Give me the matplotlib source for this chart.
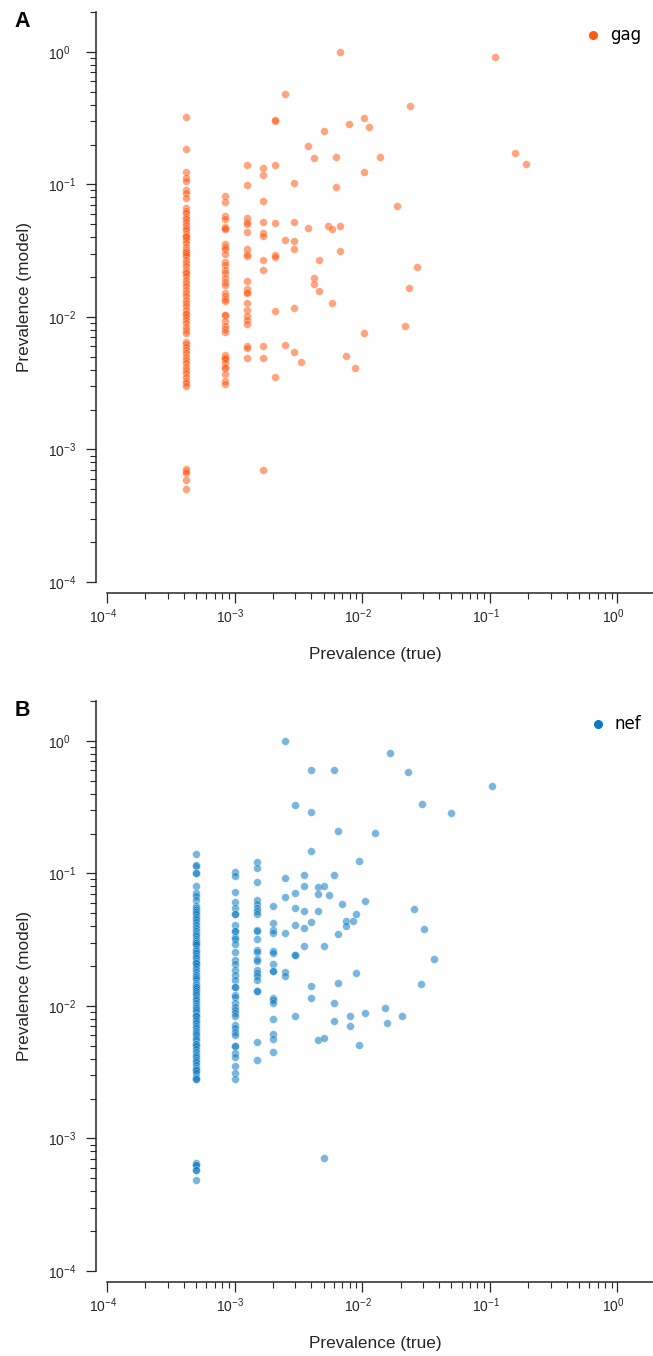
import numpy as np
import matplotlib
matplotlib.use("Agg")
import matplotlib.pyplot as plt
from matplotlib.ticker import LogLocator, FuncFormatter, NullFormatter
from matplotlib.lines import Line2D
from matplotlib.transforms import ScaledTranslation

plt.rcParams['font.family'] = 'Liberation Sans'
plt.rcParams['mathtext.fontset'] = 'custom'
plt.rcParams['mathtext.rm'] = 'Liberation Sans'
plt.rcParams['mathtext.it'] = 'Liberation Sans:italic'
plt.rcParams['mathtext.bf'] = 'Liberation Sans:bold'

INK = '#262626'

# ---- gag: true prevalence = count / GAG_N ----
GAG_N = 2400
gag_col1 = [0.32, 0.185, 0.124, 0.112, 0.106, 0.091, 0.086, 0.079,
            0.0665, 0.063, 0.061, 0.057, 0.055, 0.052, 0.049, 0.047, 0.045,
            0.042, 0.041, 0.041, 0.040, 0.038, 0.036, 0.034, 0.032, 0.031, 0.031,
            0.030, 0.029, 0.027, 0.0256, 0.0243, 0.0226, 0.022, 0.0215, 0.0204,
            0.019, 0.018, 0.017, 0.016, 0.0152, 0.0144, 0.0134, 0.0128, 0.0121,
            0.0113, 0.0107, 0.0105, 0.010, 0.0095, 0.009, 0.0084, 0.008, 0.0076,
            0.0065, 0.0062, 0.0059, 0.0056, 0.0053, 0.005, 0.0047, 0.0045,
            0.0042, 0.004, 0.0038, 0.0035, 0.0033, 0.0032, 0.003,
            0.00071, 0.00069, 0.000665, 0.00059, 0.0005]
gag_col2 = [0.082, 0.074, 0.0575, 0.055, 0.048, 0.0465, 0.046, 0.0356, 0.034,
            0.0326, 0.030, 0.0259, 0.0248, 0.0226, 0.0214, 0.0198, 0.0182,
            0.0173, 0.0152, 0.0143, 0.0137, 0.0131, 0.0104, 0.0104, 0.0093,
            0.0085, 0.0081, 0.0077, 0.0052, 0.005, 0.0049, 0.0048, 0.0045,
            0.0042, 0.0041, 0.0037, 0.0033, 0.0031]
gag_col3 = [0.140, 0.099, 0.056, 0.052, 0.050, 0.044, 0.0326, 0.030, 0.029,
            0.0187, 0.0162, 0.0155, 0.0152, 0.0127, 0.0113, 0.0101, 0.0095,
            0.0088, 0.006, 0.0058, 0.0049]
gag_col4 = [0.132, 0.117, 0.0747, 0.052, 0.0428, 0.0409, 0.0268, 0.0228,
            0.006, 0.0049, 0.0007]
gag_rest_k = [5, 5, 5, 5, 5, 5, 5, 5, 6, 6, 6, 7, 7, 7, 7, 7, 7, 8, 9, 9,
              10, 10, 10, 11, 11, 12, 13, 14, 14, 15, 15, 16, 16, 16, 18, 19,
              21, 25, 25, 25, 27, 33, 45, 52, 56, 57, 65, 263, 376, 464]
gag_rest_y = [0.30, 0.305, 0.140, 0.0516, 0.0294, 0.0283, 0.0111, 0.0035,
              0.48, 0.038, 0.0061, 0.103, 0.0519, 0.0375, 0.0326, 0.0116, 0.0054,
              0.0046, 0.194, 0.0466, 0.157, 0.0196, 0.0177, 0.0268, 0.0158,
              0.252, 0.0488, 0.0463, 0.0127, 0.161, 0.095, 1.0, 0.0488, 0.0315,
              0.0051, 0.288, 0.0041, 0.316, 0.124, 0.0076, 0.27, 0.161, 0.069,
              0.0086, 0.0164, 0.389, 0.024, 0.91, 0.173, 0.143]

# ---- nef: true prevalence = count / NEF_N ----
NEF_N = 2000
nef_col1 = [0.140, 0.116, 0.113, 0.100, 0.100, 0.080, 0.071, 0.068, 0.063,
            0.057, 0.055, 0.053, 0.051, 0.049, 0.047, 0.045, 0.043, 0.041,
            0.039, 0.037, 0.035, 0.034, 0.032, 0.031, 0.030, 0.030, 0.029,
            0.027, 0.026, 0.025, 0.024, 0.023, 0.022, 0.021, 0.021, 0.020,
            0.019, 0.018, 0.017, 0.0165, 0.016, 0.015, 0.0145, 0.014, 0.014,
            0.0135, 0.013, 0.0125, 0.012, 0.0115, 0.011, 0.0105, 0.010, 0.0097,
            0.0093, 0.009, 0.0086, 0.0084, 0.0084, 0.008, 0.0077, 0.0074,
            0.0071, 0.0068, 0.0065, 0.0062, 0.006, 0.0057, 0.0055, 0.0052,
            0.0052, 0.005, 0.0047, 0.0045, 0.0043, 0.0041, 0.0039, 0.0038,
            0.0036, 0.0034, 0.0033, 0.0033, 0.0031, 0.0029, 0.0028, 0.0028,
            0.00065, 0.00063, 0.00063, 0.00058, 0.00058, 0.00049]
nef_col2 = [0.102, 0.096, 0.072, 0.061, 0.055, 0.049, 0.049, 0.041, 0.037,
            0.037, 0.0333, 0.032, 0.0294, 0.0254, 0.0222, 0.0208, 0.0186,
            0.0171, 0.0157, 0.0139, 0.0139, 0.0121, 0.0117, 0.0105, 0.0099,
            0.0094, 0.0088, 0.0084, 0.0072, 0.0068, 0.0064, 0.006, 0.005,
            0.005, 0.0044, 0.0041, 0.0035, 0.0031, 0.0028]
nef_col3 = [0.121, 0.110, 0.0865, 0.063, 0.059, 0.055, 0.052, 0.049, 0.0375,
            0.0366, 0.032, 0.0265, 0.0254, 0.0226, 0.022, 0.0186, 0.0177,
            0.0168, 0.0157, 0.0129, 0.0129, 0.0053, 0.0039]
nef_col4 = [0.057, 0.042, 0.0375, 0.0358, 0.026, 0.0251, 0.0207, 0.0182,
            0.0182, 0.0115, 0.011, 0.0105, 0.008, 0.0061, 0.0056, 0.0045]
nef_rest_k = [5, 5, 5, 5, 5, 5, 6, 6, 6, 6, 6, 6, 6, 7, 7, 7, 7, 7,
              8, 8, 8, 8, 8, 8, 9, 9, 9, 9, 10, 10, 10, 10, 11, 12, 12, 12, 12,
              13, 13, 13, 14, 15, 15, 16, 16, 17, 18, 18, 19, 19, 21, 21, 25,
              30, 31, 33, 41, 46, 51, 58, 59, 61, 73, 100, 207]
nef_rest_y = [1.0, 0.092, 0.066, 0.0356, 0.018, 0.0169,
              0.33, 0.071, 0.055, 0.041, 0.0241, 0.0241, 0.0084,
              0.097, 0.081, 0.052, 0.0386, 0.0283,
              0.60, 0.29, 0.147, 0.043, 0.0141, 0.0115,
              0.079, 0.070, 0.052, 0.0055,
              0.081, 0.0283, 0.0057, 0.00071,
              0.069, 0.60, 0.098, 0.0105, 0.0077,
              0.208, 0.035, 0.0148, 0.059, 0.044, 0.040, 0.0084, 0.0071,
              0.044, 0.0495, 0.0176, 0.124, 0.0051, 0.062, 0.0088, 0.202,
              0.0097, 0.0074, 0.81, 0.0084, 0.58, 0.054, 0.0146, 0.336,
              0.0384, 0.0226, 0.288, 0.455]

GAG_COLOR = '#ff5a14'
NEF_COLOR = '#0a7bc2'


def collect(cols, rest_k, rest_y, n):
    xs, ys = [], []
    for k, col in enumerate(cols, start=1):
        xs += [k / n] * len(col)
        ys += col
    xs += [k / n for k in rest_k]
    ys += rest_y
    return np.array(xs), np.array(ys)


def sci(v, pos):
    e = int(round(np.log10(v)))
    return r'$\mathregular{10^{%d}}$' % e


fig = plt.figure(figsize=(6.53, 13.56), dpi=100)
W, H = 653.0, 1356.0


def panel(top_px, cols, rest_k, rest_y, n, color, name, letter):
    ax = fig.add_axes([107 / W, 1 - (top_px + 570) / H, 546 / W, 570 / H])
    x, y = collect(cols, rest_k, rest_y, n)
    ax.scatter(x, y, s=31, color=color, alpha=0.55, edgecolor='white',
               linewidth=0.3, zorder=3)
    ax.set_xscale('log')
    ax.set_yscale('log')
    ax.set_xlim(1e-4, 1.9)
    ax.set_ylim(1e-4, 2)
    for s in ['top', 'right']:
        ax.spines[s].set_visible(False)
    for s in ['left', 'bottom']:
        ax.spines[s].set_position(('outward', 7.9))
        ax.spines[s].set_linewidth(1.1)
        ax.spines[s].set_color(INK)
    for axis in [ax.xaxis, ax.yaxis]:
        axis.set_major_locator(LogLocator(base=10, numticks=10))
        axis.set_minor_locator(LogLocator(base=10, subs=np.arange(2, 10), numticks=10))
        axis.set_major_formatter(FuncFormatter(sci))
        axis.set_minor_formatter(NullFormatter())
    ax.tick_params(which='major', length=7.2, width=0.9, color=INK,
                   labelsize=10, labelcolor=INK)
    ax.tick_params(which='minor', length=4.3, width=0.8, color=INK)
    ax.tick_params(axis='y', which='major', pad=27.6)
    ax.tick_params(axis='x', which='major', pad=3)
    plt.setp(ax.get_yticklabels(), ha='left')
    shift = ScaledTranslation(-3 / 72, 0, fig.dpi_scale_trans)
    for lab in ax.get_xticklabels():
        lab.set_transform(lab.get_transform() + shift)

    ax.set_xlabel('Prevalence (true)', fontsize=12.4, color=INK)
    ax.set_ylabel('Prevalence (model)', fontsize=12.4, color=INK)
    ax.xaxis.set_label_coords((375 - 107) / 546, -0.114)
    ax.yaxis.set_label_coords((32 - 107) / 546, 0.5)

    handle = Line2D([], [], marker='o', ls='', color=color, markersize=5.5)
    ax.legend([handle], [name], loc='center right', frameon=False,
              bbox_to_anchor=(0.978, 0.959), borderpad=0, borderaxespad=0,
              handlelength=1.0, handletextpad=0.5,
              prop={'family': 'DejaVu Sans', 'size': 12})
    fig.text(22.5 / W, 1 - (top_px + 9.5) / H, letter, ha='center', va='center',
             fontsize=15.5, fontweight='bold', color='black')
    return ax


panel(12, [gag_col1, gag_col2, gag_col3, gag_col4], gag_rest_k, gag_rest_y,
      GAG_N, GAG_COLOR, 'gag', 'A')
panel(701, [nef_col1, nef_col2, nef_col3, nef_col4], nef_rest_k, nef_rest_y,
      NEF_N, NEF_COLOR, 'nef', 'B')

fig.savefig('out.png', dpi=100)
